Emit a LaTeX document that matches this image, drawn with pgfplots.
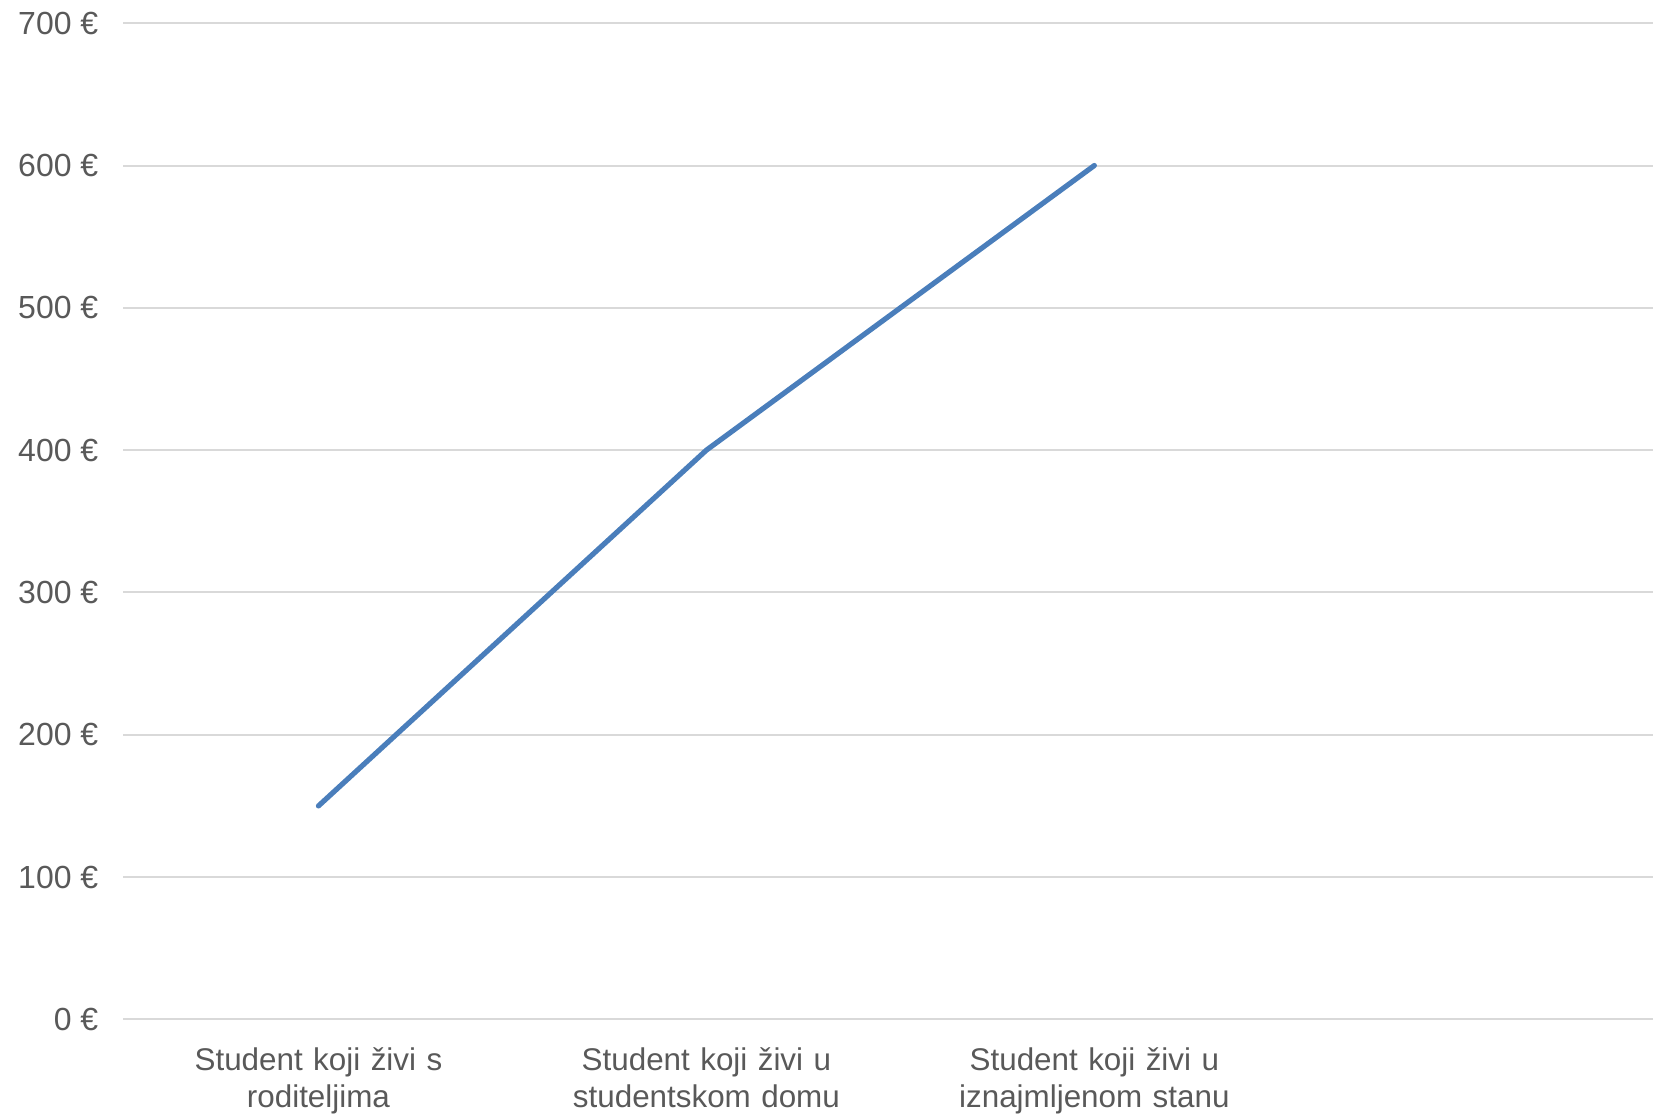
\documentclass[border=0pt]{standalone}
\usepackage{pgfplots}
\pgfplotsset{compat=1.18}
\usepackage{fontspec}
\setmainfont{Liberation Sans}
\definecolor{txt}{HTML}{595959}
\definecolor{grd}{HTML}{D9D9D9}
\definecolor{ln}{HTML}{4A7EBB}
\begin{document}
\begin{tikzpicture}
\path (-61.7pt,-47.5pt) rectangle (765.3pt,510pt);
\begin{axis}[
  scale only axis,
  width=765.3pt, height=498.4pt,
  xmin=-0.503, xmax=3.44,
  ymin=0, ymax=700,
  ytick={0,100,...,700},
  yticklabel={\pgfmathprintnumber{\tick}~€},
  /pgf/number format/assume math mode=true,
  xtick={0,1,2},
  xticklabels={{Student koji živi s\\roditeljima},{Student koji živi u\\studentskom domu},{Student koji živi u\\iznajmljenom stanu}},
  xticklabel style={align=center, text width=200pt, inner sep=0pt, font=\fontsize{15.7}{18.8}\selectfont, text=txt},
  yticklabel style={font=\fontsize{16}{19}\selectfont, text=txt},
  ymajorgrids,
  grid style={grd, line width=1pt},
  axis line style={draw=none},
  major tick length=0pt,
  xtick pos=bottom, ytick pos=left,
  xticklabel shift=13.8pt,
  yticklabel shift=9pt,
  clip=false,
]
\addplot[ln, line width=2.6pt, line cap=round, line join=round] coordinates {(0,150) (1,400) (2,600)};
\end{axis}
\end{tikzpicture}
\end{document}
